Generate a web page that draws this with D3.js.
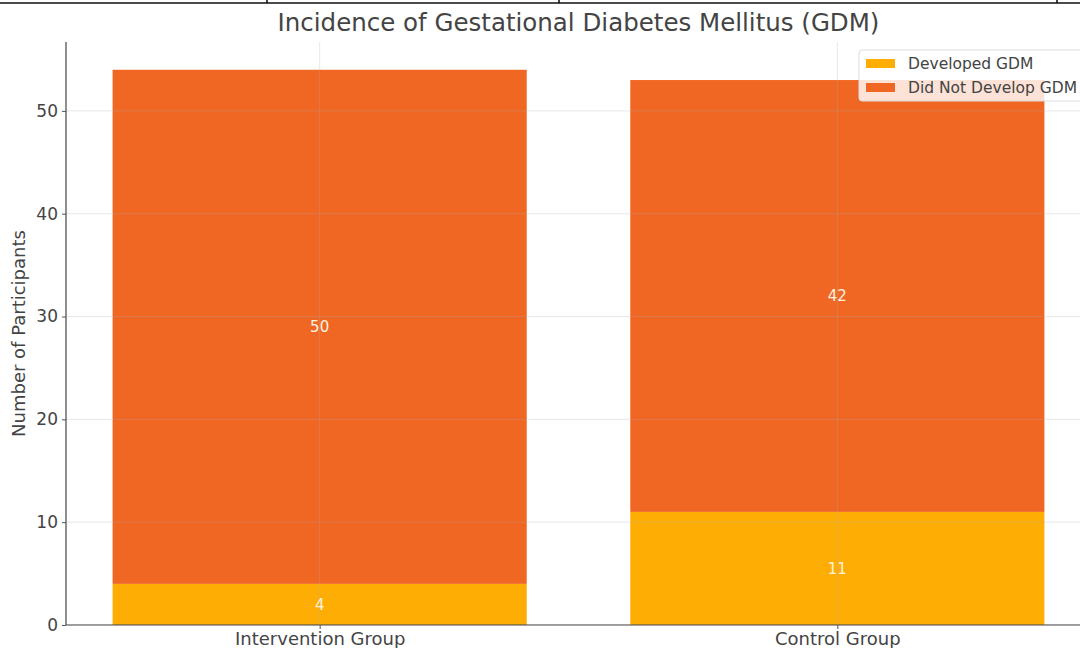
<!DOCTYPE html>
<html>
<head>
<meta charset="utf-8">
<script src="https://cdn.jsdelivr.net/npm/d3@7"></script>
<style>
  html, body { margin: 0; padding: 0; background: #fff; }
  svg { display: block; font-family: "DejaVu Sans", sans-serif; }
</style>
</head>
<body>
<svg id="chart" width="1080" height="648"></svg>
<script>
// Data
const groups = ["Intervention Group", "Control Group"];
const developedGDM = [4, 11];
const notDevelopedGDM = [50, 42];
const seriesNames = ["Developed GDM", "Did Not Develop GDM"];
const yTicks = [0, 10, 20, 30, 40, 50];
const titleText = "Incidence of Gestational Diabetes Mellitus (GDM)";
const yLabelText = "Number of Participants";

const colors = ["#fdad03", "#f06623"];

const svg = d3.select("#chart");
const W = 1080, H = 648;

// Thin rule along the top edge with column separators
const topRule = svg.append("g").attr("stroke", "#111").attr("stroke-width", 1.6);
topRule.append("line").attr("x1", 0).attr("x2", W).attr("y1", 3).attr("y2", 3);
[267, 559, 1057].forEach(px => topRule.append("line").attr("x1", px).attr("x2", px).attr("y1", 0).attr("y2", 3));

// Plot area
const mLeft = 66, mRight = 1091, mTop = 42, mBottom = 625;

const totals = groups.map((g, i) => developedGDM[i] + notDevelopedGDM[i]);
const yMax = d3.max(totals) * 1.05;

// Bar centres on an index scale (bar width 0.8 in index units)
const xi = d3.scaleLinear().domain([-0.49, 1.49]).range([mLeft, mRight]);
const barW = xi(0.8) - xi(0);
const y = d3.scaleLinear().domain([0, yMax]).range([mBottom, mTop]);

svg.append("defs").append("clipPath").attr("id", "plotclip")
  .append("rect").attr("x", mLeft).attr("y", mTop).attr("width", mRight - mLeft).attr("height", mBottom - mTop);

const plot = svg.append("g").attr("clip-path", "url(#plotclip)");

// Stacked data
const stackRows = groups.map((g, i) => ({ group: g, idx: i, "Developed GDM": developedGDM[i], "Did Not Develop GDM": notDevelopedGDM[i] }));
const stacked = d3.stack().keys(seriesNames)(stackRows);

stacked.forEach((layer, li) => {
  plot.append("g").selectAll("rect").data(layer).join("rect")
    .attr("x", d => xi(d.data.idx) - barW / 2)
    .attr("width", barW)
    .attr("y", d => y(d[1]))
    .attr("height", d => y(d[0]) - y(d[1]))
    .attr("fill", colors[li]);
});

// Grid lines (drawn over the bars, faint)
const grid = plot.append("g").attr("stroke", "#b0b0b0").attr("stroke-width", 0.8).attr("opacity", 0.35);
yTicks.forEach(t => grid.append("line").attr("x1", mLeft).attr("x2", mRight).attr("y1", y(t)).attr("y2", y(t)));
groups.forEach((g, i) => grid.append("line").attr("x1", xi(i)).attr("x2", xi(i)).attr("y1", mTop).attr("y2", mBottom));

// Value labels centred in each segment
stacked.forEach((layer, li) => {
  plot.append("g").selectAll("text").data(layer).join("text")
    .attr("x", d => xi(d.data.idx))
    .attr("y", d => y((d[0] + d[1]) / 2))
    .attr("dy", "0.35em")
    .attr("text-anchor", "middle")
    .attr("font-size", 15)
    .attr("fill", "#fff3e0")
    .text(d => d[1] - d[0]);
});

// Axes
const yAxis = d3.axisLeft(y).tickValues(yTicks).tickSize(4).tickPadding(4);
const yg = svg.append("g").attr("transform", `translate(${mLeft},0)`).call(yAxis);
yg.select(".domain").attr("stroke", "#444").attr("stroke-width", 1.2).attr("d", `M0,${mTop}V${mBottom}`);
yg.selectAll(".tick line").attr("stroke", "#555");
yg.selectAll(".tick text").attr("font-size", 17).attr("fill", "#444").attr("font-family", "DejaVu Sans");

const xAxis = d3.axisBottom(xi).tickValues([0, 1]).tickFormat(i => groups[i]).tickSize(4).tickPadding(3);
const xg = svg.append("g").attr("transform", `translate(0,${mBottom})`).call(xAxis);
xg.select(".domain").attr("stroke", "#444").attr("stroke-width", 1.2).attr("d", `M${mLeft},0H${mRight}`);
xg.selectAll(".tick line").attr("stroke", "#555");
xg.selectAll(".tick text").attr("font-size", 18).attr("fill", "#444").attr("font-family", "DejaVu Sans");

// Title
svg.append("text")
  .attr("x", (mLeft + mRight) / 2)
  .attr("y", 31)
  .attr("text-anchor", "middle")
  .attr("font-size", 24.5)
  .attr("fill", "#444")
  .text(titleText);

// Y axis label
svg.append("text")
  .attr("transform", `translate(25,${(mTop + mBottom) / 2}) rotate(-90)`)
  .attr("text-anchor", "middle")
  .attr("font-size", 18)
  .attr("fill", "#444")
  .text(yLabelText);

// Legend
const lg = svg.append("g").attr("transform", "translate(859,50)");
lg.append("rect").attr("x", 0).attr("y", 0).attr("width", 240).attr("height", 51)
  .attr("rx", 3).attr("fill", "#fff").attr("fill-opacity", 0.82).attr("stroke", "#ddd");
seriesNames.forEach((name, i) => {
  const row = lg.append("g").attr("transform", `translate(7,${9 + i * 24})`);
  row.append("rect").attr("width", 29).attr("height", 9).attr("fill", colors[i]);
  row.append("text").attr("x", 42).attr("y", 10).attr("font-size", 15.5).attr("fill", "#444").text(name);
});
</script>
</body>
</html>
